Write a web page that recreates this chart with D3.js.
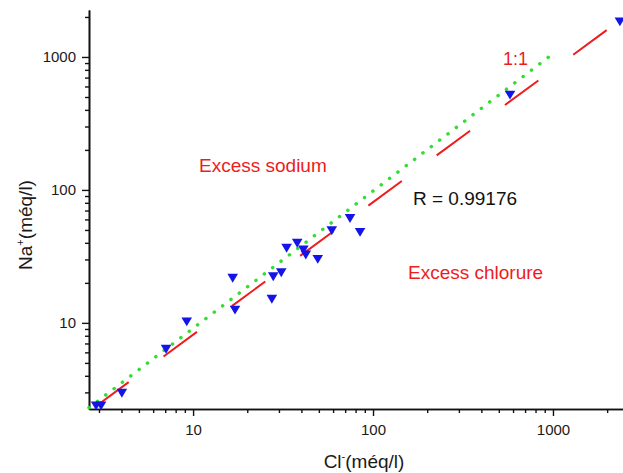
<!DOCTYPE html>
<html>
<head>
<meta charset="utf-8">
<script src="https://cdn.jsdelivr.net/npm/d3@7"></script>
<style>
	body { margin: 0; background: #fff; }
	#chart { width: 623px; height: 473px; }
	text { font-family: "Liberation Sans", Arial, sans-serif; }
</style>
</head>
<body>
<div id="chart"></div>
<script>
// measured points, Cl- vs Na+ (meq/l)
var clValues = [2.89, 3.08, 4.02, 7.08, 9.22, 16.6, 17.1, 27.4, 27.9, 30.9,
	33.1, 37.9, 41.0, 42.3, 49.3, 59.0, 74.5, 84.7, 577, 2355];
var naValues = [2.38, 2.38, 2.96, 6.35, 10.2, 21.7, 12.5, 15.1, 22.3, 23.9,
	36.5, 39.8, 35.4, 32.5, 30.1, 49.4, 61.2, 48.1, 518, 1842];

// reference lines, end points [Cl, Na]
var fitLine = [[2.64, 2.30], [1013, 1072]];
var ratioLine = [[2.86, 2.34], [2450, 1960]];

var xMajorTicks = [10, 100, 1000];
var xMinorTicks = [3, 4, 5, 6, 7, 8, 9, 20, 30, 40, 50, 60, 70, 80, 90,
	200, 300, 400, 500, 600, 700, 800, 900, 2000];
var yMajorTicks = [10, 100, 1000];
var yMinorTicks = [3, 4, 5, 6, 7, 8, 9, 20, 30, 40, 50, 60, 70, 80, 90,
	200, 300, 400, 500, 600, 700, 800, 900, 2000];

var xDomain = [2.64, 2450];
var yDomain = [2.25, 2256];

drawChart();

function drawChart() {
	const margin = {
		top: 10,
		right: 0,
		bottom: 64,
		left: 89
	};
	const width = 623 - margin.left - margin.right;
	const height = 473 - margin.top - margin.bottom;

	const xScale = d3.scaleLog()
		.domain(xDomain)
		.range([0, width]);

	const yScale = d3.scaleLog()
		.domain(yDomain)
		.range([height, 0]);

	const root = d3.select("#chart").append("svg")
		.attr("width", width + margin.left + margin.right)
		.attr("height", height + margin.top + margin.bottom);

	const svg = root.append("g")
		.attr("transform", "translate(" + margin.left + "," + margin.top + ")");

	// minor ticks first, then the labelled ones
	svg.append("g")
		.attr("class", "xminor")
		.attr("transform", "translate(0," + height + ")")
		.call(d3.axisBottom(xScale).tickValues(xMinorTicks).tickSize(4).tickSizeOuter(0).tickFormat(""));

	svg.append("g")
		.attr("class", "xaxis")
		.attr("transform", "translate(0," + height + ")")
		.call(d3.axisBottom(xScale).tickValues(xMajorTicks).tickSize(7).tickSizeOuter(0)
			.tickPadding(8).tickFormat(d3.format("d")));

	svg.append("g")
		.attr("class", "yminor")
		.call(d3.axisLeft(yScale).tickValues(yMinorTicks).tickSize(4).tickSizeOuter(0).tickFormat(""));

	svg.append("g")
		.attr("class", "yaxis")
		.call(d3.axisLeft(yScale).tickValues(yMajorTicks).tickSize(7).tickSizeOuter(0)
			.tickPadding(6).tickFormat(d3.format("d")));

	svg.selectAll(".domain")
		.attr("stroke", "#111")
		.attr("stroke-width", 1.6);
	svg.selectAll(".tick line")
		.attr("stroke", "#111")
		.attr("stroke-width", 1.4);
	svg.selectAll(".tick text")
		.attr("fill", "#1a1a1a")
		.style("font-size", "15px");

	const line = d3.line()
		.x(d => xScale(d[0]))
		.y(d => yScale(d[1]));

	svg.append("path")
		.datum(ratioLine)
		.attr("class", "ratio")
		.attr("d", line)
		.attr("fill", "none")
		.attr("stroke", "#ee1c1c")
		.attr("stroke-width", 2)
		.attr("stroke-dasharray", "41.5,43.3");

	svg.append("path")
		.datum(fitLine)
		.attr("class", "fit")
		.attr("d", line)
		.attr("fill", "none")
		.attr("stroke", "#33dd33")
		.attr("stroke-width", 3.5)
		.attr("stroke-linecap", "round")
		.attr("stroke-dasharray", "0.1,10.4");

	var points = clValues.map((c, i) => ({ cl: c, na: naValues[i] }));

	svg.selectAll(".dot")
		.data(points)
		.enter()
		.append("path")
		.attr("class", "dot")
		.attr("d", "M-5.3,-4.3L5.3,-4.3L0,4.6Z")
		.attr("transform", d => "translate(" + xScale(d.cl) + "," + yScale(d.na) + ")")
		.attr("fill", "#1414e8");

	// annotations
	root.append("text")
		.attr("x", 199)
		.attr("y", 172)
		.attr("fill", "#ee1c1c")
		.style("font-size", "19px")
		.text("Excess sodium");

	root.append("text")
		.attr("x", 408)
		.attr("y", 279)
		.attr("fill", "#ee1c1c")
		.style("font-size", "19px")
		.text("Excess chlorure");

	root.append("text")
		.attr("x", 413)
		.attr("y", 205)
		.attr("fill", "#111")
		.style("font-size", "19px")
		.text("R = 0.99176");

	root.append("text")
		.attr("x", 503)
		.attr("y", 65)
		.attr("fill", "#ee1c1c")
		.style("font-size", "18px")
		.text("1:1");

	// axis titles
	var xTitle = root.append("text")
		.attr("x", margin.left + xScale(100) - 9)
		.attr("y", 468)
		.attr("text-anchor", "middle")
		.attr("fill", "#1a1a1a")
		.style("font-size", "19px");
	xTitle.append("tspan").text("Cl");
	xTitle.append("tspan").attr("dy", -8).style("font-size", "11px").text("-");
	xTitle.append("tspan").attr("dy", 8).text("(méq/l)");

	var yTitle = root.append("text")
		.attr("transform", "translate(32,225) rotate(-90)")
		.attr("text-anchor", "middle")
		.attr("fill", "#1a1a1a")
		.style("font-size", "19px");
	yTitle.append("tspan").text("Na");
	yTitle.append("tspan").attr("dy", -8).style("font-size", "11px").text("+");
	yTitle.append("tspan").attr("dy", 8).text("(méq/l)");
}
</script>
</body>
</html>
